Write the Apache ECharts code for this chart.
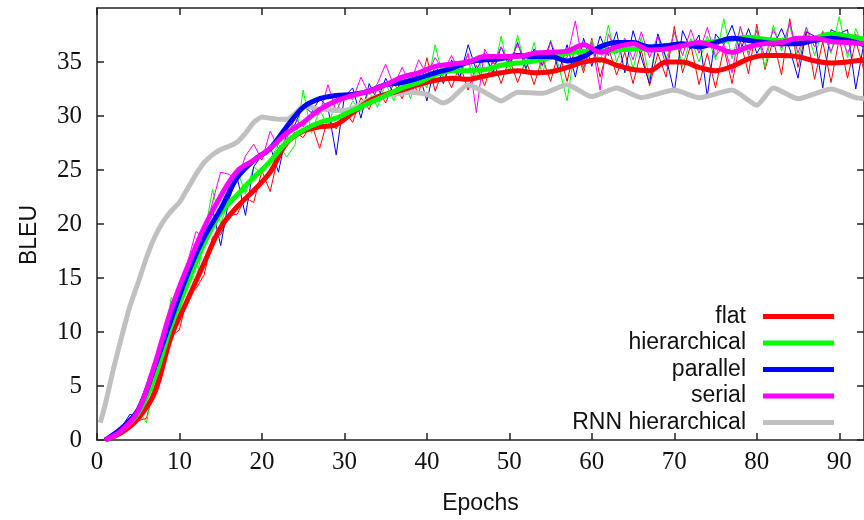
<!DOCTYPE html>
<html><head><meta charset="utf-8">
<script src="https://cdn.jsdelivr.net/npm/echarts@6/dist/echarts.min.js"></script>
<style>html,body{margin:0;padding:0;background:#fff}#c{width:864px;height:520px}</style>
</head><body><div id="c"></div>
<script>
const epochs = [1,2,3,4,5,6,7,8,9,10,11,12,13,14,15,16,17,18,19,20,21,22,23,24,25,26,27,28,29,30,31,32,33,34,35,36,37,38,39,40,41,42,43,44,45,46,47,48,49,50,51,52,53,54,55,56,57,58,59,60,61,62,63,64,65,66,67,68,69,70,71,72,73,74,75,76,77,78,79,80,81,82,83,84,85,86,87,88,89,90,91,92,93];
const smoothEpochs = [1,3,5,7,9,11,13,15,17,19,21,23,25,27,29,31,33,35,37,39,41,43,45,47,49,51,53,55,57,59,61,63,65,67,69,71,73,75,77,79,81,83,85,87,89,91,93];

const flatRaw = [0,0.2,0.5,1.2,1.8,2.0,5.0,7.2,9.6,10.2,
13.5,14.0,15.3,18.8,19.0,20.8,20.9,22.4,22.0,24.9,
23.0,26.4,27.6,28.5,28.0,29.3,27.0,29.8,28.8,30.5,
29.4,31.7,30.6,32.6,31.2,33.1,31.6,33.6,32.0,35.4,
32.3,34.3,32.6,34.8,32.4,34.7,32.8,35.2,33.0,35.3,
33.1,35.2,32.9,35.4,33.2,36.0,33.2,36.5,34.0,37.2,
33.6,36.4,33.8,35.9,33.0,36.1,32.8,35.8,33.6,38.3,
34.0,36.6,32.9,35.8,32.6,36.3,33.0,37.0,33.9,38.5,
34.3,37.1,33.8,39.0,34.5,37.8,33.4,36.9,33.1,37.2,
33.5,37.0,34.2];
const hierRaw = [0,0.3,0.6,1.5,2.8,1.6,5.8,8.6,13.2,11.8,
15.4,14.6,18.8,23.2,20.0,22.2,25.0,22.8,25.3,24.6,
25.9,27.4,26.2,27.3,32.4,28.4,30.6,29.0,31.5,29.6,
31.4,30.4,32.3,30.8,33.0,31.4,33.8,31.6,34.1,32.6,
36.6,33.4,34.9,33.5,35.7,33.4,35.9,33.6,37.4,33.9,
37.5,34.2,36.8,33.8,37.0,34.6,31.4,36.5,34.3,37.0,
34.9,38.4,35.0,37.1,34.4,37.3,33.4,37.6,35.2,37.8,
34.6,37.2,35.0,37.4,35.2,39.0,35.3,38.2,35.9,38.0,
34.5,38.4,36.0,38.4,35.2,38.2,35.6,37.9,35.8,39.2,
35.4,38.1,36.2];
const parRaw = [0,0.4,1.2,2.4,2.0,4.4,6.4,9.4,11.8,13.9,
16.0,17.6,19.5,21.4,18.0,22.3,24.3,20.8,25.3,26.4,
27.2,24.8,28.5,29.2,31.0,30.3,31.6,30.8,26.4,31.8,
32.6,29.8,33.0,31.4,33.5,32.0,33.3,32.7,34.1,31.4,
34.8,33.0,35.2,33.6,36.6,34.2,35.8,34.0,36.4,34.6,
36.8,34.4,36.2,34.7,36.9,34.1,36.6,33.6,37.2,34.6,
37.4,35.6,37.8,34.0,37.9,35.4,33.0,37.6,35.4,32.2,
37.9,36.2,37.5,31.8,37.6,36.6,38.4,36.0,38.1,35.8,
37.2,36.4,38.1,36.2,33.5,37.8,37.4,32.6,38.0,37.6,
38.0,32.5,36.8];
const serRaw = [0,0.5,1.1,1.8,3.0,4.6,6.6,9.2,12.5,14.0,
16.5,19.3,18.8,22.0,24.8,24.6,24.0,26.3,27.4,25.9,
28.6,27.0,27.9,29.8,29.0,30.0,30.2,32.9,30.4,32.1,
31.5,33.6,32.0,33.0,34.8,32.8,34.5,33.0,35.2,33.8,
35.4,34.2,35.6,34.0,35.8,30.3,36.2,34.8,36.4,35.0,
36.6,35.0,36.0,34.6,36.8,35.2,35.4,38.8,34.4,36.8,
32.4,37.6,35.8,37.2,35.2,37.8,35.4,37.4,34.6,37.8,
35.6,38.0,35.8,38.2,35.5,36.6,34.0,38.3,35.6,37.9,
35.4,38.0,36.3,38.6,35.8,38.2,36.4,37.8,36.0,37.8,
35.8,37.6,36.2];

const flatSmooth = [0,0.7,2.0,4.4,9.6,13.0,16.4,19.7,21.6,23.1,
24.8,27.5,28.6,29.0,29.2,30.3,31.4,32.0,32.4,32.9,
33.3,33.5,33.4,33.7,34.0,34.2,34.0,34.1,34.5,35.0,
35.2,34.7,34.3,34.2,35.0,35.0,34.5,34.2,34.6,35.3,
35.6,35.6,35.5,35.1,34.9,35.0,35.2];
const hierSmooth = [0,0.9,2.5,5.8,10.6,14.5,18.2,21.0,22.7,24.3,
25.8,27.6,28.7,29.4,29.8,30.5,31.2,31.9,32.6,33.1,
33.8,34.2,34.2,34.3,34.7,34.9,35.1,35.4,35.8,36.0,
36.0,36.1,36.2,36.3,36.5,36.6,36.7,36.9,37.1,37.3,
37.1,37.0,37.0,37.2,37.6,37.4,37.1];
const parSmooth = [0,1.1,2.8,6.8,11.2,15.4,18.8,21.4,24.3,25.9,
27.0,29.0,30.8,31.6,31.9,32.0,32.3,32.9,33.1,33.5,
34.0,34.4,35.0,35.2,35.3,35.6,35.5,35.5,35.1,35.5,
36.4,36.8,36.8,36.4,36.5,36.7,36.4,36.8,37.2,37.0,
36.8,36.7,36.7,37.0,37.2,37.0,36.6];
const serSmooth = [0,0.9,2.7,7.0,12.1,16.1,19.7,22.6,24.9,25.9,
27.0,28.4,29.4,30.6,31.4,31.9,32.3,32.9,33.6,34.0,
34.6,34.8,35.0,35.5,35.5,35.5,35.8,35.9,36.0,36.6,
35.9,36.4,36.7,36.1,36.2,36.5,36.8,36.4,35.9,36.4,
36.7,36.8,37.2,37.2,36.9,36.8,36.7];

const rnnEpochs = [0.4,1,2,3,4,5,6,7,8,9,10,11,12,13,14,15,16,17,18,19,20,21,22,23,24,25,26,27,28,29,30,31,32,33,34,36,38,40,42,43,45,47,49,51,54,57,60,63,66,70,73,77,80,82,85,89,92,93];
const rnnBleu = [1.6,3.3,6.6,9.6,12.4,14.6,16.9,18.8,20.2,21.2,22.0,23.3,24.6,25.7,26.4,26.9,27.2,27.6,28.4,29.4,29.9,29.8,29.7,29.7,30.2,30.9,30.8,30.6,30.6,30.5,30.5,30.7,31.1,31.5,31.8,32.0,32.2,32.0,31.2,31.6,32.9,32.2,31.4,32.2,32.1,32.9,31.8,32.6,31.7,32.4,31.7,32.4,31.0,32.6,31.6,32.5,31.7,31.6];

const xTicks = [0,10,20,30,40,50,60,70,80,90];
const yTicks = [0,5,10,15,20,25,30,35];
const seriesNames = ['flat','hierarchical','parallel','serial','RNN hierarchical'];
const seriesColors = ['#ff0000','#00ff00','#0000ff','#ff00ff','#c0c0c0'];

function pairs(xs, ys){ return xs.map(function(x,i){ return [x, ys[i]]; }); }

const rawSets = [flatRaw, hierRaw, parRaw, serRaw];
const smoothSets = [flatSmooth, hierSmooth, parSmooth, serSmooth];

const series = [];
rawSets.forEach(function(arr, i){
  series.push({name: seriesNames[i] + ' (epoch)', type:'line', data: pairs(epochs, arr),
    showSymbol:false, symbol:'none', lineStyle:{width:1, color:seriesColors[i]}, itemStyle:{color:seriesColors[i]}, silent:true});
});
series.push({name: seriesNames[4], type:'line', data: pairs(rnnEpochs, rnnBleu), showSymbol:false, symbol:'none', smooth:0.2,
  lineStyle:{width:5, color:seriesColors[4]}, itemStyle:{color:seriesColors[4]}, silent:true});
smoothSets.forEach(function(arr, i){
  series.push({name: seriesNames[i], type:'line', data: pairs(smoothEpochs, arr), showSymbol:false, symbol:'none', smooth:0.35,
    lineStyle:{width:5, color:seriesColors[i]}, itemStyle:{color:seriesColors[i]}, silent:true});
});

const axisCol = '#222';
function xAx(pos, labels){
  return {type:'value', position:pos, min:0, max:93, interval:10,
    axisLine:{show:true, onZero:false, lineStyle:{color:axisCol, width:1.5}},
    axisTick:{show:true, inside:true, length:7, lineStyle:{color:axisCol, width:1.5}},
    axisLabel:{show:labels, showMaxLabel:false, fontFamily:'Liberation Serif', fontSize:25, color:'#111', margin:10,
      formatter:function(v){ return xTicks.indexOf(v) >= 0 ? String(v) : ''; }},
    splitLine:{show:false}};
}
function yAx(pos, labels){
  return {type:'value', position:pos, min:0, max:40, interval:5,
    axisLine:{show:true, onZero:false, lineStyle:{color:axisCol, width:1.5}},
    axisTick:{show:true, inside:true, length:7, lineStyle:{color:axisCol, width:1.5}},
    axisLabel:{show:labels, showMaxLabel:false, fontFamily:'Liberation Serif', fontSize:25, color:'#111', margin:15,
      formatter:function(v){ return yTicks.indexOf(v) >= 0 ? String(v) : ''; }},
    splitLine:{show:false}};
}
const xa0 = xAx('bottom', true);
xa0.name = 'Epochs'; xa0.nameLocation = 'middle'; xa0.nameGap = 52;
xa0.nameTextStyle = {fontFamily:'Liberation Sans', fontSize:23, color:'#111'};
const ya0 = yAx('left', true);
ya0.name = 'BLEU'; ya0.nameLocation = 'middle'; ya0.nameGap = 56;
ya0.nameTextStyle = {fontFamily:'Liberation Sans', fontSize:23, color:'#111', padding:[0,22,0,0]};

const chart = echarts.init(document.getElementById('c'));
chart.setOption({
  animation:false,
  backgroundColor:'#fff',
  grid:{left:97, right:-2, top:8, bottom:77, containLabel:false},
  xAxis:[xa0, xAx('top', false)],
  yAxis:[ya0, yAx('right', false)],
  legend:{orient:'vertical', right:30, top:305, align:'right', padding:0, itemGap:3.5,
    itemWidth:71, itemHeight:5, icon:'rect', selectedMode:false, data:seriesNames,
    textStyle:{fontFamily:'Liberation Sans', fontSize:23, color:'#111', lineHeight:20, padding:[0,12,0,0]}},
  series: series
});
</script></body></html>
